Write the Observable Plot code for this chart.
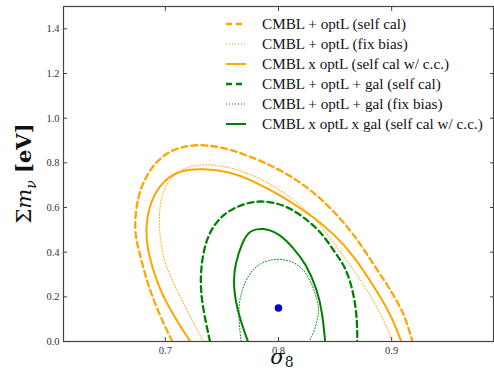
<!DOCTYPE html>
<html>
<head>
<meta charset="utf-8">
<script src="https://cdn.jsdelivr.net/npm/d3@7"></script>
<script src="https://cdn.jsdelivr.net/npm/@observablehq/plot@0.6"></script>
<style>
  html, body { margin: 0; padding: 0; background: #fff; }
  #wrap { position: relative; width: 494px; height: 371px; overflow: hidden; }
  #legend { position: absolute; left: 0; top: 0; font-family: "Liberation Serif", serif; font-size: 15.2px; color: #111; }
  .row { position: absolute; white-space: nowrap; height: 20px; line-height: 20px; }
  .row svg { position: absolute; left: 0; top: 8px; }
  .row span { position: absolute; left: 36px; top: 0; }
</style>
</head>
<body>
<div id="wrap"></div>
<script>
// ---------- data ----------
const sigma8Ticks = [0.7, 0.8, 0.9];
const mnuTicks = [0.0, 0.2, 0.4, 0.6, 0.8, 1.0, 1.2, 1.4];

const fiducialSigma8 = [0.8];
const fiducialMnu = [0.15];

// CMBL + optL (self cal)  — orange dashed
const optLSelfCalS8  = [0.706, 0.7044, 0.6985, 0.6897, 0.6825, 0.6766, 0.6722, 0.6752, 0.6825, 0.6927, 0.7073, 0.7278, 0.7482, 0.7687, 0.8038, 0.8331, 0.8535, 0.8682, 0.8798, 0.9032, 0.912, 0.9173, 0.9185];
const optLSelfCalMnu = [0.0,   0.019,  0.079,  0.184,  0.289,  0.408,  0.498,  0.647,  0.737,  0.812,  0.864,  0.884,  0.872,  0.842,  0.767,  0.663,  0.558,  0.468,  0.378,  0.199,  0.109, 0.019,  0.0];

// CMBL + optL (fix bias)  — orange dotted
const optLFixBiasS8  = [0.7336, 0.719, 0.7073, 0.6971, 0.6941, 0.6956, 0.7044, 0.719, 0.7366, 0.757, 0.78, 0.805, 0.83, 0.845, 0.8535, 0.8711, 0.8857, 0.8974, 0.9003];
const optLFixBiasMnu = [0.0,    0.139, 0.259,  0.378,  0.528,  0.647,  0.737,  0.785, 0.794,  0.782, 0.74, 0.67,  0.565, 0.47, 0.408,  0.289,  0.169,  0.049,  0.0];

// CMBL x optL (self cal w/ c.c.)  — orange solid
const optLCrossS8  = [0.722, 0.7044, 0.6927, 0.684, 0.6825, 0.6868, 0.6985, 0.7132, 0.7336, 0.757, 0.7746, 0.8038, 0.8331, 0.8506, 0.8652, 0.8886, 0.9003, 0.9085];
const optLCrossMnu = [0.0,   0.139,  0.259,  0.408, 0.513,  0.633,  0.722,  0.767,  0.775,  0.760, 0.726,  0.651,  0.55,   0.472,  0.393,  0.214,  0.109,  0.0];

// CMBL + optL + gal (self cal)  — green dashed
const galSelfCalS8  = [0.7395, 0.7322, 0.7307, 0.7336, 0.7395, 0.7512, 0.7687, 0.7862, 0.8067, 0.8243, 0.8389, 0.8506, 0.8594, 0.8667, 0.8696, 0.8696];
const galSelfCalMnu = [0.0,    0.169,  0.289,  0.408,  0.498,  0.573,  0.618,  0.633,  0.61,   0.55,   0.483,  0.393,  0.333,  0.214,  0.094,  0.0];

// CMBL + optL + gal (fix bias)  — green dotted
const galFixBiasS8  = [0.767, 0.7643, 0.7658, 0.7717, 0.7833, 0.8009, 0.8184, 0.8287, 0.8345, 0.836, 0.8331, 0.8272];
const galFixBiasMnu = [0.0,   0.124,  0.199,  0.289,  0.356,  0.375,  0.349,  0.274,  0.184,  0.139, 0.064,  0.0];

// CMBL x optL x gal (self cal w/ c.c.)  — green solid
const galCrossS8  = [0.773, 0.7643, 0.7599, 0.7614, 0.7687, 0.7746, 0.7862, 0.8009, 0.8125, 0.8243, 0.8345, 0.8389, 0.8412];
const galCrossMnu = [0.0,   0.124,  0.244,  0.349,  0.453,  0.498,  0.51,   0.483,  0.423,  0.349,  0.229,  0.124,  0.0];

const legendLabels = [
  "CMBL + optL (self cal)",
  "CMBL + optL (fix bias)",
  "CMBL x optL (self cal w/ c.c.)",
  "CMBL + optL + gal (self cal)",
  "CMBL + optL + gal (fix bias)",
  "CMBL x optL x gal (self cal w/ c.c.)"
];

// ---------- build ----------
const toRows = (xs, ys) => xs.map((x, i) => ({s8: x, mnu: ys[i]}));
const ORANGE = "#ffa500", GREEN = "#008000";
const series = [
  {rows: toRows(optLSelfCalS8, optLSelfCalMnu), stroke: ORANGE, width: 2.3, dash: "6,4"},
  {rows: toRows(optLFixBiasS8, optLFixBiasMnu), stroke: ORANGE, width: 1, dash: "1,2"},
  {rows: toRows(optLCrossS8, optLCrossMnu), stroke: ORANGE, width: 2, dash: null},
  {rows: toRows(galSelfCalS8, galSelfCalMnu), stroke: GREEN, width: 2.3, dash: "6,4"},
  {rows: toRows(galFixBiasS8, galFixBiasMnu), stroke: GREEN, width: 1, dash: "1,2"},
  {rows: toRows(galCrossS8, galCrossMnu), stroke: GREEN, width: 2, dash: null}
];
const fiducial = toRows(fiducialSigma8, fiducialMnu);
const fmt = d3.format(".1f");
const blank = () => "";

const chart = Plot.plot({
  width: 494,
  height: 371,
  marginLeft: 63,
  marginRight: 1,
  marginTop: 6,
  marginBottom: 30,
  style: {fontFamily: "Liberation Serif, serif", fontSize: "10.5px", color: "#333", background: "white"},
  x: {domain: [0.61, 0.99], label: null},
  y: {domain: [0, 1.5], label: null},
  marks: [
    ...series.map(s => Plot.line(s.rows, {x: "s8", y: "mnu", stroke: s.stroke, strokeWidth: s.width, strokeDasharray: s.dash, curve: "basis", clip: true})),
    Plot.dot(fiducial, {x: "s8", y: "mnu", r: 3.8, fill: "#0000cc"}),
    Plot.frame({stroke: "#444", strokeWidth: 1.2}),
    Plot.axisX({ticks: sigma8Ticks, tickFormat: fmt, tickSize: 0, tickPadding: 5, label: null}),
    Plot.axisX({ticks: sigma8Ticks, tickFormat: blank, tickSize: -4, stroke: "#444", label: null}),
    Plot.axisX({anchor: "top", ticks: sigma8Ticks, tickFormat: blank, tickSize: -4, stroke: "#444", label: null}),
    Plot.axisY({ticks: mnuTicks, tickFormat: fmt, tickSize: 0, tickPadding: 4, label: null}),
    Plot.axisY({ticks: mnuTicks, tickFormat: blank, tickSize: -4, stroke: "#444", label: null}),
    Plot.axisY({anchor: "right", ticks: mnuTicks, tickFormat: blank, tickSize: -4, stroke: "#444", label: null})
  ]
});

const wrap = document.getElementById("wrap");
wrap.appendChild(chart);

// axis titles as real SVG text
const svg = d3.select(chart);
const xs = chart.scale("x"), ys = chart.scale("y");
const xMid = xs.apply(0.8);
const yMid = (ys.apply(0) + ys.apply(1.5)) / 2;

const xl = svg.append("text")
  .attr("x", xMid + 4).attr("y", 364)
  .attr("text-anchor", "middle")
  .attr("font-family", "DejaVu Serif, serif")
  .attr("font-size", 21).attr("fill", "#111");
xl.append("tspan").attr("font-style", "italic").text("σ");
xl.append("tspan").attr("font-size", 14).attr("dy", 3).text("8");

const yl = svg.append("text")
  .attr("transform", `translate(31,${yMid}) rotate(-90)`)
  .attr("text-anchor", "middle")
  .attr("font-family", "DejaVu Serif, serif")
  .attr("font-size", 21).attr("fill", "#111");
yl.append("tspan").text("Σ");
yl.append("tspan").attr("font-style", "italic").text("m");
yl.append("tspan").attr("font-style", "italic").attr("font-size", 14).attr("dy", 5).text("ν");
yl.append("tspan").attr("dy", -5).attr("font-weight", "bold").text(" [eV]");

// legend (HTML overlay)
const legend = document.createElement("div");
legend.id = "legend";
const rowCenters = [24, 44, 63.5, 83.5, 103.5, 124];
legendLabels.forEach((label, i) => {
  const s = series[i];
  const row = document.createElement("div");
  row.className = "row";
  row.style.left = "226px";
  row.style.top = (rowCenters[i] - 10) + "px";
  row.innerHTML = `<svg width="22" height="4"><line x1="0" x2="20" y1="2" y2="2" stroke="${s.stroke}" stroke-width="${s.width}" ${s.dash ? `stroke-dasharray="${s.dash}"` : ""}/></svg><span>${label}</span>`;
  legend.appendChild(row);
});
wrap.appendChild(legend);
</script>
</body>
</html>
